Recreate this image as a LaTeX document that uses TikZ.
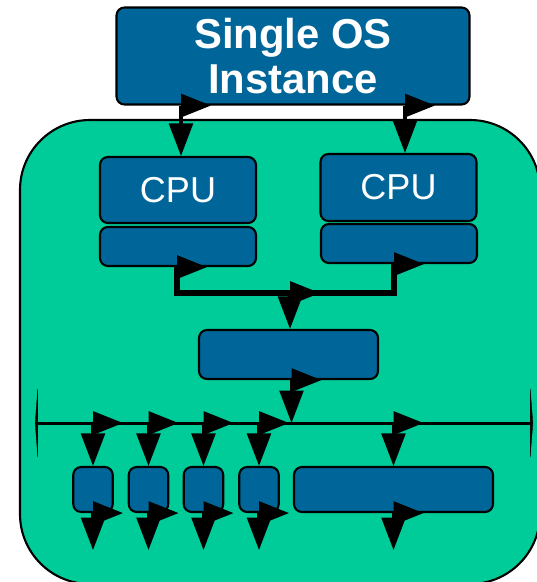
\documentclass[tikz,border=0pt]{standalone}
\usepackage{fontspec}
\setmainfont{Liberation Sans}
\usetikzlibrary{arrows.meta,decorations.markings,calc}
\definecolor{boxblue}{RGB}{0,102,153}
\definecolor{boardgreen}{RGB}{0,204,153}

\begin{document}
\begin{tikzpicture}[
        x=0.02cm, y=-0.02cm,
        unit/.style={draw, line width=1.2pt, fill=boxblue, rounded corners=4.5pt, inner sep=0pt, text=white},
        cpu/.style={unit, minimum width=3.12cm, minimum height=1.32cm, font=\fontsize{20.5}{24}\selectfont},
        cache/.style={unit, minimum width=3.12cm, minimum height=0.78cm},
        dev/.style={unit, minimum width=0.79cm, minimum height=0.9cm},
        tailmark/.style={postaction={decorate, decoration={markings,
            mark=at position 0pt with {\fill (-6.8pt,0) -- (0,17pt) -- (6.8pt,0) -- cycle;}}}},
        link/.style={line width=1.9pt, -{Triangle[length=18.5pt, width=13.5pt]}, tailmark},
        feed/.style={line width=3pt, tailmark},
        spike/.tip={Triangle[length=1.7pt, width=44pt, line width=0.2pt]}
    ]
    \clip (0,0) rectangle (537,582);
    \draw[line width=1.2pt, fill=boardgreen, rounded corners=1.4cm] (20,120) rectangle (540,584);

    \node[unit, minimum width=7.06cm, minimum height=1.94cm, align=center,
        font=\fontsize{23.8}{25.5}\selectfont\bfseries] (os) at (293,56) {Single OS\\Instance};
    \node[cpu] (cpu1) at (178,190) {CPU};
    \node[cache] (cache1) at (178,246.5) {};
    \node[cpu, minimum height=1.34cm] (cpu2) at (398.5,187.5) {CPU};
    \node[cache] (cache2) at (399,243.5) {};
    \node[unit, minimum width=3.58cm, minimum height=0.98cm] (bridge) at (288.5,354.5) {};
    \foreach \n/\x in {1/93,2/148.5,3/203.5,4/259}
        \node[dev] (dev\n) at (\x,489.5) {};
    \node[dev, minimum width=3.98cm] (dev5) at (393.5,489.5) {};

    \coordinate (jn) at (290,293);
    \coordinate (busL) at (35,423);
    \coordinate (busR) at (533,423);

    \draw[link] ([xshift=0.06cm]cpu1.north |- os.south) -- ([xshift=0.06cm]cpu1.north);
    \draw[link] ([xshift=0.13cm]cpu2.north |- os.south) -- ([xshift=0.13cm]cpu2.north);
    \draw[feed] ([xshift=-0.02cm]cache1.south) |- (jn);
    \draw[feed] ([xshift=-0.1cm]cache2.south) |- (jn);
    \draw[link] (jn) -- (jn |- bridge.north);
    \draw[link] ([xshift=0.06cm]bridge.south) -- ([xshift=0.06cm]bridge.south |- busL);
    \draw[line width=1.7pt, spike-spike] (busL) -- (busR);
    \foreach \n in {1,...,5}
        \draw[link] (dev\n.north |- busL) -- (dev\n.north);
    \foreach \n in {1,...,5} {
        \coordinate (out\n) at ($(dev\n.south)+(0,37)$);
        \draw[link] (dev\n.south) -- (out\n);
    }
\end{tikzpicture}
\end{document}
